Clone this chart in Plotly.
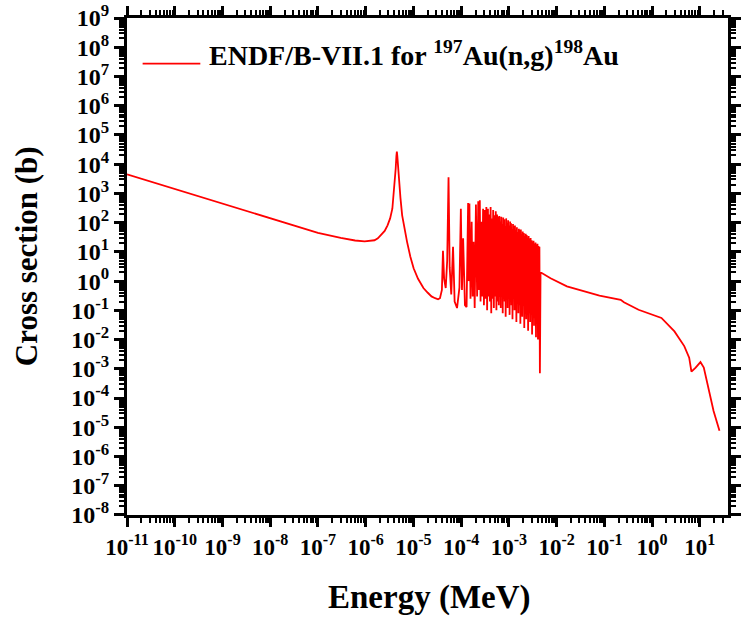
import plotly.graph_objects as go

# ---------------- data ----------------
# thermal 1/v region and the 4.9 eV resonance
low_E = [1e-11, 1e-10, 1e-9, 1e-8, 1e-7, 3e-7, 6e-7, 9.5e-7, 1.25e-6, 1.53e-6, 1.8e-6,
         2.1e-6, 2.5e-6, 2.87e-6, 3.25e-6, 3.62e-6, 3.85e-6, 4.06e-6, 4.25e-6, 4.4e-6,
         4.5e-6, 4.6e-6, 4.78e-6, 4.98e-6, 5.35e-6, 5.81e-6, 6.5e-6, 7.36e-6, 8.6e-6,
         1.01e-5, 1.25e-5, 1.62e-5, 2.0e-5, 2.39e-5, 2.85e-5, 3.28e-5, 3.6e-5]
low_sigma = [4470, 1420, 450, 143, 45, 30, 24.5, 23, 23.5, 25, 29,
             37, 52, 81, 140, 300, 900, 2450, 7000, 19000,
             27000, 19000, 7000, 2450, 700, 178, 55, 22, 7,
             2.75, 1.2, 0.58, 0.4, 0.30, 0.26, 0.24, 0.26]

# resolved resonances, sparse part (alternating valleys / peaks)
forest_E = [3.95e-5, 4.16e-5, 4.4e-5, 4.75e-5, 5.1e-5, 5.44e-5, 5.75e-5, 6.2e-5, 6.76e-5,
            7.3e-5, 8.2e-5, 9.2e-5, 9.86e-5, 1.04e-4, 1.10e-4, 1.2e-4, 1.3e-4, 1.40e-4,
            1.44e-4, 1.49e-4, 1.57e-4, 1.66e-4, 1.74e-4, 1.82e-4, 1.92e-4, 2.04e-4,
            2.16e-4, 2.28e-4, 2.37e-4, 2.46e-4, 2.55e-4, 2.65e-4, 2.76e-4, 2.88e-4,
            3.0e-4, 3.12e-4, 3.25e-4, 3.37e-4, 3.5e-4, 3.64e-4, 3.75e-4, 3.87e-4,
            4.0e-4, 4.14e-4, 4.27e-4, 4.40e-4, 4.54e-4, 4.68e-4, 4.84e-4, 5.00e-4,
            5.15e-4, 5.31e-4, 5.48e-4, 5.65e-4, 5.84e-4, 6.04e-4, 6.15e-4]
forest_sigma = [0.5, 11, 1.2, 0.58, 5, 3600, 3.0, 0.35, 15,
                0.2, 0.12, 0.6, 300, 0.5, 29, 0.15, 0.13, 470,
                1.0, 450, 0.25, 107, 0.3, 22, 0.12, 415,
                0.3, 540, 0.5, 585, 0.2, 107, 0.3, 300,
                0.15, 270, 0.25, 345, 0.1, 300, 0.3, 190,
                0.2, 345, 0.08, 138, 0.25, 270, 0.12, 180,
                0.3, 245, 0.1, 190, 0.2, 158, 0.15]

# resolved resonances, dense part
dense_peak_E = [6.3e-4, 6.6e-4, 6.92e-4, 7.26e-4, 7.61e-4, 7.97e-4, 8.36e-4, 8.76e-4, 9.19e-4,
                9.63e-4, 1.01e-3, 1.06e-3, 1.11e-3, 1.16e-3, 1.22e-3, 1.28e-3, 1.34e-3,
                1.40e-3, 1.47e-3, 1.54e-3, 1.62e-3, 1.70e-3, 1.78e-3, 1.86e-3, 1.95e-3,
                2.05e-3, 2.15e-3, 2.25e-3, 2.36e-3, 2.47e-3, 2.59e-3, 2.72e-3, 2.85e-3,
                2.99e-3, 3.13e-3, 3.28e-3, 3.44e-3, 3.61e-3, 3.78e-3, 3.97e-3, 4.16e-3, 4.36e-3]
dense_peak_sigma = [170, 110, 160, 90, 150, 130, 75, 140, 100, 120, 80, 110, 95, 60, 90,
                    75, 80, 55, 70, 48, 62, 56, 58, 40, 50, 44, 34, 42, 38, 31, 35, 28,
                    30, 25, 22, 24, 19, 21, 18, 19, 16, 15]
dense_valley_E = [6.45e-4, 6.76e-4, 7.09e-4, 7.43e-4, 7.79e-4, 8.16e-4, 8.56e-4, 8.97e-4,
                  9.41e-4, 9.86e-4, 1.035e-3, 1.085e-3, 1.135e-3, 1.19e-3, 1.25e-3, 1.31e-3,
                  1.37e-3, 1.435e-3, 1.505e-3, 1.58e-3, 1.66e-3, 1.74e-3, 1.82e-3, 1.905e-3,
                  2.0e-3, 2.1e-3, 2.2e-3, 2.305e-3, 2.415e-3, 2.53e-3, 2.655e-3, 2.785e-3,
                  2.92e-3, 3.06e-3, 3.205e-3, 3.36e-3, 3.525e-3, 3.695e-3, 3.875e-3,
                  4.065e-3, 4.26e-3, 4.46e-3]
dense_valley_sigma = [0.3, 0.12, 0.4, 0.08, 0.25, 0.2, 0.06, 0.35, 0.12, 0.25, 0.07, 0.2,
                      0.15, 0.05, 0.25, 0.1, 0.18, 0.04, 0.2, 0.08, 0.15, 0.035, 0.12, 0.06,
                      0.15, 0.025, 0.1, 0.05, 0.12, 0.02, 0.08, 0.04, 0.1, 0.015, 0.06, 0.03,
                      0.08, 0.012, 0.05, 0.01, 0.025, 0.0007]

# unresolved / fast region
high_E = [4.6e-3, 5.5e-3, 7.46e-3, 0.0164, 0.0359, 0.079, 0.22, 0.257, 0.52, 0.84, 1.57,
          2.94, 4.72, 5.98, 6.67, 8.17, 10.3, 12.1, 15.4, 19.4, 25.8]
high_sigma = [2.0, 1.7, 1.26, 0.66, 0.47, 0.32, 0.23, 0.19, 0.105, 0.081, 0.055,
              0.019, 6.0e-3, 2.4e-3, 8e-4, 1.1e-3, 1.7e-3, 1.1e-3, 1.7e-4, 3.6e-5, 7.6e-6]

X_RANGE = [-11, 1.59]
Y_RANGE = [-8.0005, 9.0005]

x_tick_exp = list(range(-11, 2))
y_tick_exp = list(range(-8, 10))
x_tickvals = [10.0 ** e for e in x_tick_exp]
y_tickvals = [10.0 ** e for e in y_tick_exp]
x_ticktext = ["10<sup>%d</sup>" % e for e in x_tick_exp]
y_ticktext = ["10<sup>%d</sup>" % e for e in y_tick_exp]
minor_mult = [2, 3, 4, 5, 6, 7, 8, 9]
# minor tick positions, kept inside the axis ranges (values outside would widen the range)
x_minorvals = [m * 10.0 ** e for e in range(-11, 2) for m in minor_mult
               if m * 10.0 ** e < 10.0 ** X_RANGE[1]]
y_minorvals = [m * 10.0 ** e for e in range(-8, 9) for m in minor_mult]

series_name = "ENDF/B-VII.1 for <sup>197</sup>Au(n,g)<sup>198</sup>Au"

# assemble the trace
E_all = list(low_E) + list(forest_E)
S_all = list(low_sigma) + list(forest_sigma)
for pe, ps, ve, vs in zip(dense_peak_E, dense_peak_sigma, dense_valley_E, dense_valley_sigma):
    E_all += [pe, ve]
    S_all += [ps, vs]
E_all += high_E
S_all += high_sigma

RED = "#ff0000"
FONT = "Liberation Serif"

fig = go.Figure()
fig.add_trace(go.Scatter(x=E_all, y=S_all, mode="lines", name=series_name,
                         line=dict(color=RED, width=1.8), showlegend=False))

fig.update_layout(
    width=742, height=621,
    margin=dict(l=127, r=1, t=15, b=106),
    paper_bgcolor="white", plot_bgcolor="white",
    font=dict(family=FONT, color="black"),
    xaxis=dict(type="log", range=X_RANGE, autorange=False, tickmode="array",
               tickvals=x_tickvals, ticktext=x_ticktext, ticks="outside", ticklen=9,
               tickwidth=2.5, tickcolor="black", showline=True, linecolor="black",
               linewidth=3, mirror="ticks", showgrid=False, zeroline=False,
               ticklabeloverflow="allow",
               tickfont=dict(family=FONT, size=23, weight="bold", color="black"),
               minor=dict(tickmode="array", tickvals=x_minorvals, ticks="outside",
                          ticklen=5, tickwidth=2, tickcolor="black", showgrid=False)),
    yaxis=dict(type="log", range=Y_RANGE, autorange=False, tickmode="array",
               tickvals=y_tickvals, ticktext=y_ticktext, ticks="outside", ticklen=10,
               tickwidth=2.5, tickcolor="black", showline=True, linecolor="black",
               linewidth=3, mirror="ticks", showgrid=False, zeroline=False,
               ticklabeloverflow="allow",
               tickfont=dict(family=FONT, size=24, weight="bold", color="black"),
               minor=dict(tickmode="array", tickvals=y_minorvals, ticks="outside",
                          ticklen=5, tickwidth=2, tickcolor="black", showgrid=False)),
)

# legend (drawn manually to match the long Origin-style sample line)
fig.add_shape(type="line", xref="paper", yref="paper", x0=0.026, x1=0.122, y0=0.908, y1=0.908,
              line=dict(color=RED, width=1.8))
fig.add_annotation(xref="paper", yref="paper", x=0.133, y=0.928, xanchor="left", yanchor="middle",
                   text="<b>" + series_name + "</b>", showarrow=False,
                   font=dict(family=FONT, size=28, color="black"))

# axis titles
fig.add_annotation(xref="paper", yref="paper", x=0.503, y=-0.166, xanchor="center", yanchor="middle",
                   text="<b>Energy (MeV)</b>", showarrow=False,
                   font=dict(family=FONT, size=33, color="black"))
fig.add_annotation(xref="paper", yref="paper", x=-0.167, y=0.52, xanchor="center", yanchor="middle",
                   text="<b>Cross section (b)</b>", showarrow=False, textangle=-90,
                   font=dict(family=FONT, size=31, color="black"))

fig.write_html("out.html")
